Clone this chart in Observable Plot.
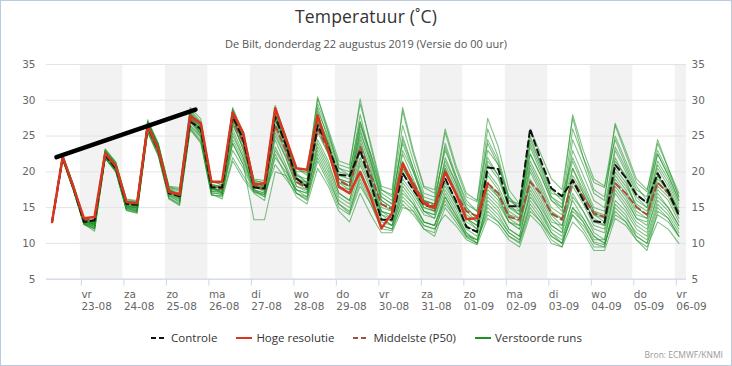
<!DOCTYPE html>
<html><head><meta charset="utf-8">
<script src="https://cdn.jsdelivr.net/npm/d3@7"></script>
<script src="https://cdn.jsdelivr.net/npm/@observablehq/plot@0.6"></script>
<style>
html,body{margin:0;padding:0;background:#fff;}
#wrap{position:relative;width:732px;height:366px;box-sizing:border-box;border:1px solid #b9cbdc;overflow:hidden;font-family:"Open Sans",sans-serif;}
#title{position:absolute;top:3px;left:0;width:100%;text-align:center;font-size:17.5px;color:#333;letter-spacing:0.2px;}
#subtitle{position:absolute;top:35px;left:0;width:100%;text-align:center;font-size:11px;color:#555;}
#chart{position:absolute;top:54px;left:-1px;}
#legend{position:absolute;top:329px;left:0;width:100%;display:flex;justify-content:center;gap:18px;font-size:11.5px;color:#333;}
#legend span.it{display:flex;align-items:center;gap:3px;}
#source{position:absolute;right:8px;top:348px;font-size:8.5px;color:#999;}
</style></head>
<body>
<div id="wrap">
  <div id="title">Temperatuur (˚C)</div>
  <div id="subtitle">De Bilt, donderdag 22 augustus 2019 (Versie do 00 uur)</div>
  <div id="chart"></div>
  <div id="legend"></div>
  <div id="source">Bron: ECMWF/KNMI</div>
</div>
<script>
// time steps: every 6 h from 22-08-2019 08:00 (local) ; values per 6h step (08,14,20,02 per line)
const startTime = Date.UTC(2019, 7, 22, 8);
const stepHours = 6;
const dayNames = ["zo","ma","di","wo","do","vr","za"];
const tickDays = ["2019-08-23","2019-08-24","2019-08-25","2019-08-26","2019-08-27","2019-08-28","2019-08-29","2019-08-30","2019-08-31","2019-09-01","2019-09-02","2019-09-03","2019-09-04","2019-09-05","2019-09-06"];
const shadedDays = ["2019-08-23","2019-08-25","2019-08-27","2019-08-29","2019-08-31","2019-09-02","2019-09-04","2019-09-06"];
const yTicks = [5,10,15,20,25,30,35];

const controle = [
 13.0,22.0,17.8,13.0, 13.2,22.3,20.5,15.5, 15.4,26.3,23.0,17.0, 16.6,27.0,26.0,17.8,
 17.8,27.8,24.5,17.8, 17.7,27.7,23.8,19.1, 17.9,26.5,23.5,19.6, 19.4,23.0,18.4,13.3,
 13.3,19.8,17.5,15.4, 15.0,19.1,16.0,12.3, 11.6,20.6,20.4,15.2, 15.2,26.0,21.6,17.7,
 16.6,18.8,16.0,13.1, 12.9,21.0,19.2,16.8, 15.7,19.8,17.3,13.9];
const hogeResolutie = [
 13.0,22.1,17.9,13.5, 13.7,22.6,20.8,15.8, 15.6,26.4,23.2,17.2, 16.8,27.8,26.8,18.6,
 18.6,28.3,25.4,18.2, 18.4,28.9,24.7,20.5, 20.3,27.9,23.0,17.9, 17.0,20.0,16.5,12.1,
 14.2,21.2,18.0,15.6, 14.9,20.0,17.0,13.4, 13.5,18.4];
const middelste = [
 13.0,22.0,17.9,13.3, 13.3,22.5,20.6,15.7, 15.5,26.5,23.2,17.3, 16.9,27.3,26.0,18.0,
 17.6,27.3,24.0,18.0, 17.6,26.5,23.0,18.6, 17.8,26.0,23.0,18.8, 18.0,23.5,19.5,15.5,
 14.8,21.0,18.5,15.8, 15.2,20.0,17.0,14.5, 13.8,18.4,17.0,13.7, 13.3,18.6,17.0,14.2,
 13.3,18.9,16.5,14.2, 13.7,18.4,17.0,15.1, 14.0,18.5,17.0,14.0];

// Verstoorde runs (ensemble members)
const run01 = [13.1,22.3,18.2,13.4, 13.0,23.0,21.2,16.0, 15.8,27.0,23.8,17.8, 17.5,28.5,26.8,18.5,
 18.5,29.0,25.5,18.8, 18.5,29.3,24.8,20.5, 19.8,30.5,25.5,21.0, 20.5,30.2,23.5,17.5,
 16.8,28.5,22.5,17.8, 17.0,25.5,20.5,16.5, 15.8,27.5,23.5,17.5, 15.5,26.0,22.5,19.0,
 17.5,27.5,22.0,18.5, 17.8,26.5,22.5,18.5, 17.2,24.5,20.5,17.0];
const run02 = [13.0,21.8,17.5,12.7, 11.7,21.9,20.0,14.6, 14.3,25.7,22.4,16.4, 15.4,26.0,24.2,16.8,
 16.5,22.0,19.5,17.2, 16.8,21.0,19.0,17.0, 16.2,22.5,19.5,15.5, 14.2,19.5,16.5,13.0,
 12.5,16.5,15.0,12.5, 12.0,15.5,13.5,11.2, 10.5,14.5,13.0,11.0, 10.2,15.5,13.5,11.0,
 10.0,14.0,12.5,10.2, 9.8,14.5,13.0,11.0, 10.0,14.0,13.0,11.0];
const run03 = [13.0,22.0,17.7,12.9, 12.4,22.4,20.3,15.0, 14.6,26.2,22.9,16.9, 16.2,27.2,25.2,17.3,
 17.0,24.0,21.0,13.3, 13.3,20.0,19.5,17.5, 16.5,24.0,21.0,17.0, 16.0,21.5,18.0,14.5,
 13.5,20.5,18.0,14.5, 13.5,18.5,15.5,12.5, 11.5,18.0,16.5,13.0, 12.5,20.0,17.0,14.0,
 12.5,17.0,14.5,12.0, 11.5,17.5,15.5,13.0, 12.0,16.5,15.0,12.5];
const run04 = [13.0,22.1,17.9,13.1, 12.6,22.6,20.6,15.2, 14.9,26.6,23.3,17.3, 16.5,27.6,25.6,17.6,
 17.5,27.5,24.0,18.0, 17.5,27.0,23.5,19.0, 18.0,27.0,23.5,19.0, 18.5,24.5,19.5,14.5,
 14.0,21.5,18.5,15.5, 15.0,20.5,17.0,13.5, 12.5,21.5,19.5,15.0, 14.5,22.5,19.5,16.0,
 15.0,20.5,17.0,14.0, 13.5,20.0,18.0,15.5, 14.5,19.5,17.0,14.0];
const run05 = [13.0,22.1,17.8,12.9, 12.5,22.5,20.4,15.1, 14.8,26.4,23.1,17.1, 16.4,27.8,25.8,17.8,
 18.0,28.5,25.0,18.5, 18.0,28.0,24.0,19.5, 18.5,29.0,24.5,20.0, 19.5,28.0,22.0,16.5,
 15.5,25.0,20.5,16.5, 16.0,23.5,19.0,15.0, 13.5,24.5,21.5,16.0, 15.0,24.5,21.0,17.5,
 16.0,28.0,23.0,19.0, 18.0,24.5,21.0,17.5, 16.5,22.5,19.5,16.0];
const run06 = [12.9,21.7,17.6,13.0, 12.8,22.8,21.0,15.6, 15.2,26.8,23.6,17.5, 16.8,28.0,26.2,18.0,
 17.0,25.5,22.0,17.5, 16.5,23.5,20.5,17.0, 16.0,21.5,18.5,15.0, 14.0,18.0,15.5,12.5,
 12.0,15.5,14.0,12.0, 11.5,16.5,14.0,11.5, 10.0,16.0,14.5,12.0, 11.0,17.5,15.0,12.5,
 11.5,16.0,13.5,11.0, 10.0,15.0,13.5,11.5, 10.5,15.5,14.0,11.5];
const run07 = [13.0,22.2,18.0,13.2, 12.7,22.7,20.8,15.4, 15.0,26.9,23.5,17.4, 16.7,27.9,25.9,17.9,
 17.2,26.5,23.5,18.2, 17.8,28.5,24.5,19.8, 18.5,28.0,24.0,18.5, 17.5,26.0,21.0,16.0,
 15.0,22.5,19.0,15.5, 14.5,22.0,18.5,14.5, 13.0,18.5,16.5,13.5, 12.5,19.0,16.5,13.5,
 12.0,20.5,17.5,14.5, 13.5,22.0,19.0,15.0, 14.0,20.5,18.0,14.5];
const run08 = [13.0,21.9,17.6,12.8, 12.2,22.1,20.2,14.9, 14.6,26.0,22.7,16.7, 15.9,26.6,24.9,17.1,
 16.8,24.5,21.5,17.5, 17.0,25.0,22.0,18.0, 17.5,25.5,22.5,18.0, 17.0,22.0,18.5,14.0,
 13.0,18.5,16.5,14.0, 13.5,17.5,15.0,12.0, 11.0,17.0,15.5,13.0, 12.0,16.5,14.5,12.0,
 11.0,15.0,13.0,10.5, 10.5,18.0,16.0,13.5, 12.5,17.5,16.0,13.0];
const run09 = [13.1,22.4,18.3,13.5, 13.2,23.2,21.4,16.2, 16.0,27.3,24.0,18.0, 17.8,29.0,27.4,18.8,
 18.2,28.8,25.0,19.0, 18.8,29.0,25.0,20.0, 20.0,30.2,26.0,21.5, 21.0,29.5,24.0,18.0,
 17.5,29.0,23.0,18.0, 17.5,26.0,21.0,17.0, 16.0,24.0,21.0,16.5, 14.5,21.5,18.5,15.0,
 14.0,24.5,21.0,17.0, 16.0,26.8,23.0,19.0, 17.5,23.0,20.0,16.5];
const run10 = [13.0,22.0,17.8,13.0, 12.6,22.5,20.5,15.3, 15.0,26.5,23.2,17.2, 16.6,27.4,25.4,17.5,
 17.6,27.0,23.0,18.0, 17.2,26.0,22.5,18.5, 17.5,26.5,23.0,18.0, 17.5,24.0,20.0,15.5,
 14.5,20.0,17.5,14.5, 14.0,19.0,16.0,13.0, 12.0,19.5,17.5,14.0, 13.0,18.0,15.5,12.5,
 11.5,18.5,16.0,13.5, 12.5,19.0,17.0,14.0, 13.5,18.5,17.0,14.5];
const run11 = [13.0,21.7,17.4,12.6, 12.0,21.9,20.1,14.7, 14.4,25.6,22.3,16.3, 15.6,26.2,24.4,16.9,
 16.2,21.5,19.0,17.0, 16.0,22.5,19.5,16.5, 15.5,20.5,18.0,14.5, 13.0,17.0,14.0,11.5,
 11.5,15.0,14.5,12.5, 12.0,14.0,12.5,10.5, 9.8,13.5,12.5,10.5, 9.5,14.0,12.5,10.0,
 9.5,13.0,11.5,9.0, 9.0,13.5,12.5,10.5, 9.5,13.0,12.0,10.0];
const run12 = [13.1,22.2,18.1,13.3, 12.9,22.9,21.1,15.9, 15.7,26.9,23.7,17.7, 17.3,28.3,26.6,18.3,
 17.8,28.0,24.5,18.5, 18.0,27.5,24.0,19.5, 19.0,28.5,25.0,20.5, 20.0,27.0,22.5,17.0,
 16.0,24.0,20.0,16.0, 15.5,21.0,18.0,14.0, 13.0,23.0,21.0,16.0, 15.5,25.0,21.0,17.0,
 16.5,22.0,18.5,15.0, 14.5,21.5,19.5,16.0, 15.0,21.0,18.5,15.0];
const run13 = [13.0,21.9,17.6,12.8, 12.3,22.3,20.2,14.9, 14.5,26.1,22.8,16.8, 16.1,27.0,25.0,17.2,
 17.4,26.0,22.5,17.8, 17.5,24.5,21.0,17.5, 17.0,23.5,20.5,16.5, 15.5,20.0,17.0,13.5,
 12.5,17.5,15.5,13.0, 12.5,17.0,14.5,11.5, 10.5,15.5,14.0,11.5, 10.5,16.0,14.0,11.5,
 10.5,14.5,13.0,10.0, 9.5,16.0,14.5,12.0, 11.0,16.0,14.5,12.0];
const run14 = [12.9,21.8,17.7,13.1, 12.9,22.9,21.1,15.7, 15.3,26.9,23.7,17.6, 17.0,28.2,26.4,18.2,
 18.0,28.2,24.8,18.6, 18.2,28.0,24.0,19.0, 18.0,27.5,23.5,18.5, 18.0,27.0,21.5,16.5,
 15.5,24.5,20.5,16.0, 15.5,24.0,19.5,15.5, 14.5,26.0,22.0,16.5, 15.0,23.5,20.0,16.5,
 15.0,26.0,22.0,17.5, 16.5,25.0,21.5,18.0, 16.0,24.0,20.5,16.5];
const run15 = [13.0,22.1,17.9,13.1, 12.7,22.6,20.7,15.3, 15.0,26.7,23.4,17.4, 16.6,27.7,25.7,17.7,
 17.0,25.0,22.0,17.5, 17.0,26.5,23.0,18.5, 18.0,27.5,24.0,19.0, 18.5,25.0,20.5,15.0,
 14.5,21.0,18.5,15.0, 14.5,18.0,15.5,12.5, 11.5,20.0,18.0,14.5, 13.5,21.0,18.0,14.5,
 13.5,19.5,17.0,14.0, 13.0,20.5,18.5,15.0, 14.0,19.0,17.5,14.0];
const run16 = [13.0,22.0,17.7,12.9, 12.4,22.4,20.4,15.1, 14.7,26.3,23.0,17.0, 16.3,27.3,25.3,17.4,
 17.3,26.8,23.2,18.0, 17.4,25.5,22.0,18.0, 17.2,24.5,21.5,17.0, 16.0,21.0,17.5,13.5,
 12.5,18.0,16.0,13.0, 12.5,16.0,13.5,11.0, 10.0,16.5,15.0,12.0, 11.0,17.0,14.5,11.5,
 10.0,16.5,14.5,11.5, 10.5,17.0,15.0,12.5, 11.5,17.0,15.0,12.5];
const run17 = [13.1,22.3,18.2,13.4, 13.1,23.1,21.3,16.1, 15.9,27.1,23.9,17.9, 17.6,28.7,27.0,18.6,
 18.2,28.6,25.2,18.8, 18.4,28.8,25.0,20.5, 19.5,29.5,25.5,20.5, 19.5,26.5,22.5,17.5,
 16.5,26.5,21.5,17.0, 16.5,23.0,19.5,16.0, 14.5,22.0,19.5,15.5, 14.0,22.5,19.5,16.0,
 14.5,23.0,19.5,16.0, 15.0,23.5,20.5,17.0, 15.5,22.5,19.5,16.0];
const run18 = [13.0,21.8,17.5,12.7, 12.1,22.0,20.2,14.8, 14.5,25.9,22.6,16.6, 15.8,26.4,24.8,17.0,
 16.9,23.0,20.5,17.2, 16.5,22.0,20.0,17.5, 17.0,23.0,20.0,16.0, 15.0,19.0,16.0,12.5,
 12.0,17.0,15.5,13.0, 12.5,16.5,14.0,11.0, 10.5,14.0,13.0,11.0, 10.0,14.5,13.0,10.5,
 9.5,15.0,13.5,11.0, 10.0,14.0,13.0,10.5, 9.0,14.5,13.5,11.0];
const run19 = [12.9,21.7,17.6,13.0, 12.8,22.8,21.0,15.6, 15.2,26.8,23.6,17.5, 16.8,28.0,26.2,18.0,
 17.7,27.2,24.0,18.2, 17.6,27.8,24.5,19.2, 18.2,26.0,22.5,18.0, 17.0,23.0,19.0,14.5,
 14.0,19.0,17.0,14.5, 14.0,20.0,17.0,13.5, 12.0,17.5,16.0,13.0, 12.0,18.5,16.0,13.0,
 12.5,18.0,15.5,12.5, 12.0,18.5,16.5,13.5, 13.0,18.0,16.5,13.5];
const run20 = [13.0,21.8,17.7,13.1, 12.9,22.7,20.9,15.5, 15.1,26.7,23.5,17.4, 16.9,28.1,26.3,18.1,
 18.0,28.0,24.5,18.4, 18.0,28.2,24.0,19.0, 18.5,28.0,24.0,19.5, 19.0,25.5,21.5,16.0,
 15.0,23.0,20.0,16.0, 15.5,21.5,18.5,15.0, 13.5,21.0,19.0,15.0, 14.0,24.0,20.5,16.5,
 15.5,21.5,18.0,14.5, 14.0,23.0,20.0,16.5, 15.0,21.5,19.0,15.5];
const run21 = [13.0,21.7,17.5,12.7, 12.0,21.9,20.0,14.6, 14.2,25.5,22.2,16.2, 15.3,25.9,24.0,16.7,
 16.7,24.0,21.0,17.3, 16.8,23.0,20.5,17.0, 16.5,22.0,19.0,15.5, 14.5,18.5,15.5,12.0,
 11.8,16.0,14.5,12.0, 11.0,15.0,13.0,10.8, 10.0,15.0,13.5,11.5, 10.5,15.0,13.0,11.0,
 10.0,14.0,12.0,9.5, 9.5,15.5,14.0,11.0, 10.0,15.0,13.5,11.0];
const run22 = [13.0,22.1,17.9,13.1, 12.6,22.6,20.6,15.2, 14.9,26.6,23.3,17.3, 16.5,27.6,25.6,17.6,
 17.5,27.6,24.2,18.2, 17.8,27.4,23.5,19.0, 18.0,27.0,23.0,19.0, 18.0,23.5,19.0,14.0,
 13.5,20.5,18.0,15.0, 14.5,20.5,17.5,13.5, 12.5,18.5,17.0,14.0, 13.5,20.5,17.5,14.0,
 13.5,19.0,16.5,13.0, 12.5,19.5,17.5,14.5, 13.5,19.5,17.5,14.5];
const verstoordeRuns = [run01,run02,run03,run04,run05,run06,run07,run08,run09,run10,run11,run12,run13,run14,run15,run16,run17,run18,run19,run20,run21,run22];

// hand-drawn annotation line (start, end)
const annotTimes = ["2019-08-22T10:30Z","2019-08-25T17:00Z"];
const annotValues = [22.05, 28.7];

const colors = {controle:"#111", hres:"#d8361f", p50:"#a4503a", ens:"#1f9227"};

const toDate = k => new Date(startTime + k*stepHours*3600e3);
const rows = (name, arr) => arr.map((v,k) => ({s:name, t:toDate(k), v}));
const ens = verstoordeRuns.flatMap((a,i) => rows("run"+i, a));
const bands = shadedDays.map(d => {const a = new Date(d+"T00:00Z"); return {a, b: new Date(+a + 864e5)};});
const ticks = tickDays.map(d => new Date(d+"T00:00Z"));
const annot = annotTimes.map((t,i) => ({t:new Date(t), v:annotValues[i]}));
const fmt = d3.utcFormat("%d-%m");

const chart = Plot.plot({
  width: 732, height: 265,
  marginTop: 9, marginBottom: 41, marginLeft: 46, marginRight: 45,
  style: {fontFamily: "DejaVu Sans", fontSize: "10.5px", color: "#666", background: "transparent", overflow: "visible"},
  x: {type: "utc", domain: [new Date(Date.UTC(2019,7,22,4,50)), new Date(Date.UTC(2019,8,6,6,20))]},
  y: {domain: [5, 35]},
  marks: [
    Plot.rect(bands, {x1: "a", x2: "b", fill: "#f2f2f2", clip: true}),
    Plot.gridY(yTicks, {stroke: "#e3e3e3", strokeOpacity: 1}),
    Plot.ruleY([5], {stroke: "#ccd6eb"}),
    Plot.axisX({ticks, tickFormat: d => dayNames[d.getUTCDay()] + "\n" + fmt(d), tickSize: 7, tickPadding: 3,
      textAnchor: "start", dx: 1, stroke: "#ccd6eb", fill: "#666", lineHeight: 1.18, label: null}),
    Plot.axisY({anchor: "left", ticks: yTicks, tickSize: 0, tickPadding: 11, fill: "#666", label: null}),
    Plot.axisY({anchor: "right", ticks: yTicks, tickSize: 0, tickPadding: 5, fill: "#666", label: null}),
    Plot.line(ens, {x: "t", y: "v", z: "s", stroke: colors.ens, strokeOpacity: 0.58, strokeWidth: 1.05}),
    Plot.line(rows("p50", middelste), {x: "t", y: "v", stroke: colors.p50, strokeWidth: 2, strokeDasharray: "6,4"}),
    Plot.line(rows("ctl", controle), {x: "t", y: "v", stroke: colors.controle, strokeWidth: 2, strokeDasharray: "6,4"}),
    Plot.line(rows("hres", hogeResolutie), {x: "t", y: "v", stroke: colors.hres, strokeWidth: 2.5}),
    Plot.line(annot, {x: "t", y: "v", stroke: "#000", strokeWidth: 4.5, strokeLinecap: "round"})
  ]
});
document.getElementById("chart").appendChild(chart);

const legendItems = [
  {label: "Controle", color: colors.controle, dash: "5,3"},
  {label: "Hoge resolutie", color: colors.hres, dash: null},
  {label: "Middelste (P50)", color: colors.p50, dash: "5,3"},
  {label: "Verstoorde runs", color: colors.ens, dash: null}
];
const leg = document.getElementById("legend");
for (const it of legendItems) {
  const s = document.createElement("span"); s.className = "it";
  s.innerHTML = `<svg width="18" height="12"><line x1="1" x2="17" y1="6" y2="6" stroke="${it.color}" stroke-width="2" ${it.dash ? `stroke-dasharray="${it.dash}"` : ""}/></svg><span>${it.label}</span>`;
  leg.appendChild(s);
}
</script>
</body></html>
